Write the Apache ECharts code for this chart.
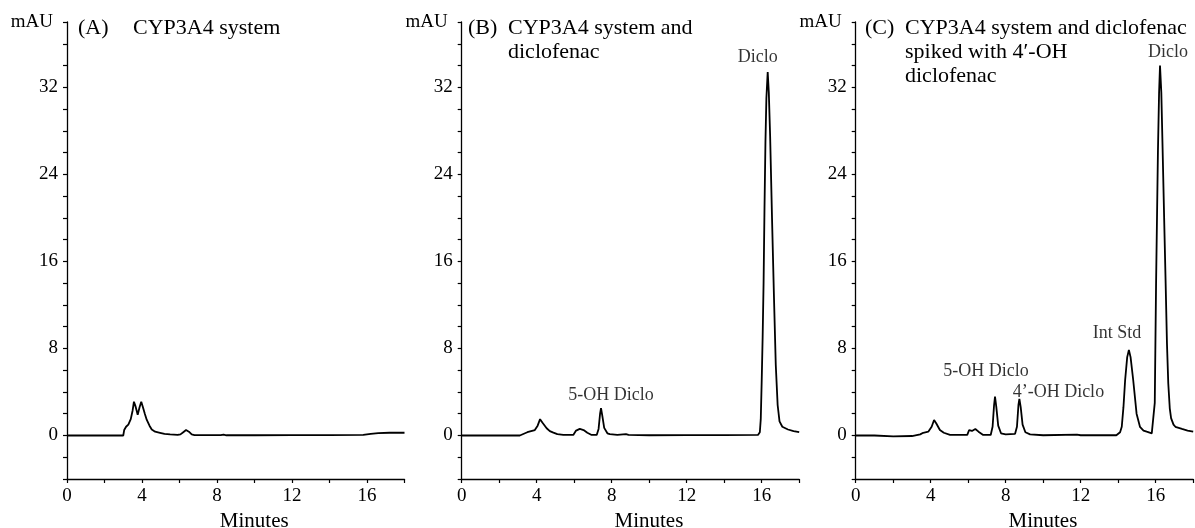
<!DOCTYPE html>
<html>
<head>
<meta charset="utf-8">
<script src="https://cdn.jsdelivr.net/npm/echarts@6/dist/echarts.min.js"></script>
<style>
  html, body { margin: 0; padding: 0; background: #fff; }
  #chart { width: 1195px; height: 528px; }
</style>
</head>
<body>
<div id="chart"></div>
<script>
// chromatogram traces, [minutes, mAU]
const traceA = [
  [0, 0], [3.0, 0], [3.05, 0.5], [3.15, 0.8], [3.27, 1.0], [3.4, 1.5], [3.5, 2.3], [3.57, 3.1],
  [3.65, 2.7], [3.77, 1.9], [3.87, 2.6], [3.96, 3.1], [4.05, 2.6], [4.15, 2.0], [4.25, 1.45],
  [4.4, 0.9], [4.52, 0.55], [4.7, 0.35], [4.96, 0.25], [5.2, 0.15], [5.5, 0.1], [5.9, 0.05],
  [6.05, 0.1], [6.2, 0.3], [6.35, 0.5], [6.5, 0.35], [6.65, 0.1], [6.8, 0.03], [8.2, 0.03],
  [8.35, 0.08], [8.5, 0.02], [10, 0.02], [12, 0.03], [14, 0.03], [15.8, 0.05], [16.2, 0.15],
  [16.6, 0.22], [17.2, 0.25], [18, 0.25]
];
const traceB = [
  [0, 0], [3.1, 0], [3.5, 0.3], [3.9, 0.5], [4.05, 0.9], [4.18, 1.5], [4.3, 1.2], [4.53, 0.66],
  [4.7, 0.4], [4.89, 0.26], [5.1, 0.12], [5.42, 0.05], [5.95, 0.05], [6.1, 0.45], [6.3, 0.6],
  [6.5, 0.5], [6.7, 0.25], [6.93, 0.05], [7.2, 0.05], [7.3, 0.6], [7.38, 2.0], [7.43, 2.5],
  [7.5, 1.8], [7.6, 0.7], [7.77, 0.2], [7.9, 0.12], [8.3, 0.05], [8.76, 0.12], [8.9, 0.05],
  [10, 0.02], [12, 0.03], [14, 0.03], [15.8, 0.05], [15.9, 0.3], [15.95, 1.5], [16.0, 5],
  [16.05, 9], [16.1, 14], [16.15, 21], [16.2, 27], [16.25, 31], [16.32, 33.4], [16.38, 31.5],
  [16.45, 27.5], [16.55, 20], [16.65, 13], [16.75, 6.5], [16.85, 2.8], [16.95, 1.3], [17.1, 0.8],
  [17.4, 0.55], [17.7, 0.4], [18, 0.3]
];
const traceC = [
  [0, 0], [1, 0], [2, -0.08], [3, -0.05], [3.44, 0.1], [3.6, 0.25], [3.87, 0.35], [4.05, 0.8],
  [4.18, 1.42], [4.3, 1.1], [4.49, 0.5], [4.7, 0.25], [5.03, 0.05], [5.95, 0.05], [6.05, 0.5],
  [6.2, 0.42], [6.38, 0.6], [6.55, 0.35], [6.8, 0.05], [7.2, 0.05], [7.3, 0.8], [7.38, 2.8],
  [7.43, 3.57], [7.5, 2.6], [7.6, 0.9], [7.75, 0.2], [8.0, 0.1], [8.5, 0.15], [8.6, 0.8],
  [8.68, 2.8], [8.73, 3.36], [8.8, 2.6], [8.9, 1.0], [9.05, 0.3], [9.3, 0.1], [10, 0.02],
  [11.8, 0.08], [12, 0.02], [13.9, 0.02], [14.1, 0.3], [14.19, 0.8], [14.28, 2.6], [14.37, 5.1],
  [14.48, 7.2], [14.57, 7.86], [14.66, 7.2], [14.8, 5.1], [14.98, 2.0], [15.16, 0.8], [15.35, 0.45],
  [15.52, 0.35], [15.79, 0.2], [15.87, 0.2], [15.95, 3], [16.02, 14], [16.12, 26.2], [16.18, 31.5],
  [16.23, 34], [16.3, 31.5], [16.37, 26.2], [16.45, 20], [16.53, 14], [16.6, 8.5], [16.67, 4.8],
  [16.75, 2.5], [16.82, 1.6], [16.95, 1.0], [17.05, 0.8], [17.4, 0.6], [17.7, 0.45], [18, 0.35]
];

// peak annotations
const peakNamesB = ['5-OH Diclo', 'Diclo'];
const peakTimesB = [7.43, 16.32];
const peakNamesC = ['5-OH Diclo', '4’-OH Diclo', 'Int Std', 'Diclo'];
const peakTimesC = [7.43, 8.73, 14.57, 16.23];

const panelTags = ['(A)', '(B)', '(C)'];
const panelTitles = [
  'CYP3A4 system',
  'CYP3A4 system and\ndiclofenac',
  'CYP3A4 system and diclofenac\nspiked with 4′-OH\ndiclofenac'
];

const xTickLabels = [0, 4, 8, 12, 16];
const yTickLabels = [0, 8, 16, 24, 32];

// label placement (style only): [dx, distance above peak]
const labelPlace = {
  B: [[10, 4], [-10, 6]],
  C: [[-9, 16], [39, -2], [-12, 8], [8, 4]]
};

const font = "'Liberation Serif', 'Times New Roman', serif";
const gridLefts = [67, 461.7, 855.7];
const gridW = 337.5;

function peakPoints(trace, names, times, place) {
  return names.map(function (n, i) {
    const pt = trace.find(p => p[0] === times[i]);
    return {
      name: n,
      value: pt,
      label: {
        show: true,
        formatter: n,
        position: 'top',
        distance: place[i][1],
        offset: [place[i][0], 0],
        fontFamily: font,
        fontSize: 18,
        color: '#000'
      }
    };
  });
}

const chart = echarts.init(document.getElementById('chart'));

const grids = gridLefts.map(l => ({ left: l, top: 22, width: gridW, height: 457, outerBoundsMode: 'none', containLabel: false }));

const xAxes = gridLefts.map((l, i) => ({
  type: 'value', gridIndex: i, min: 0, max: 18, interval: 2,
  name: 'Minutes', nameLocation: 'middle', nameGap: 30,
  nameTextStyle: { fontFamily: font, fontSize: 21, color: '#000', padding: [0, 0, 0, 37] },
  axisLine: { onZero: false, lineStyle: { color: '#000', width: 1.3 } },
  axisTick: { show: true, length: 4, lineStyle: { color: '#000', width: 1.2 } },
  axisLabel: {
    fontFamily: font, fontSize: 19, color: '#000', margin: 8,
    formatter: v => xTickLabels.indexOf(v) >= 0 ? String(v) : ''
  },
  splitLine: { show: false }
}));

const yAxes = gridLefts.map((l, i) => ({
  type: 'value', gridIndex: i, min: -4, max: 38, interval: 2,
  name: 'mAU', nameLocation: 'end', nameGap: 0,
  nameTextStyle: { fontFamily: font, fontSize: 19, color: '#000', align: 'right', verticalAlign: 'middle', padding: [0, 14, 0, 0] },
  axisLine: { show: true, lineStyle: { color: '#000', width: 1.3 } },
  axisTick: { show: true, length: 4, lineStyle: { color: '#000', width: 1.2 } },
  axisLabel: {
    fontFamily: font, fontSize: 19, color: '#000', margin: 9,
    formatter: v => yTickLabels.indexOf(v) >= 0 ? String(v) : ''
  },
  splitLine: { show: false }
}));

const titles = [];
const tagLefts = [73, 463, 860];
const titleLefts = [128, 503, 900];
panelTags.forEach(function (t, i) {
  titles.push({ text: t, left: tagLefts[i], top: 11, textStyle: { fontFamily: font, fontSize: 22, fontWeight: 'normal', color: '#000', lineHeight: 24 } });
  titles.push({ text: panelTitles[i], left: titleLefts[i], top: 11, textStyle: { fontFamily: font, fontSize: 22, fontWeight: 'normal', color: '#000', lineHeight: 24 } });
});

const lineStyle = { color: '#000', width: 1.8 };
const traces = [traceA, traceB, traceC];

const series = traces.map((tr, i) => ({
  type: 'line', xAxisIndex: i, yAxisIndex: i, data: tr,
  showSymbol: false, symbol: 'none', lineStyle: lineStyle, silent: true, animation: false
}));
series.push({
  type: 'scatter', xAxisIndex: 1, yAxisIndex: 1, symbolSize: 0, silent: true, animation: false,
  data: peakPoints(traceB, peakNamesB, peakTimesB, labelPlace.B)
});
series.push({
  type: 'scatter', xAxisIndex: 2, yAxisIndex: 2, symbolSize: 0, silent: true, animation: false,
  data: peakPoints(traceC, peakNamesC, peakTimesC, labelPlace.C)
});

chart.setOption({
  backgroundColor: '#fff',
  animation: false,
  title: titles,
  grid: grids,
  xAxis: xAxes,
  yAxis: yAxes,
  series: series
});
</script>
</body>
</html>
